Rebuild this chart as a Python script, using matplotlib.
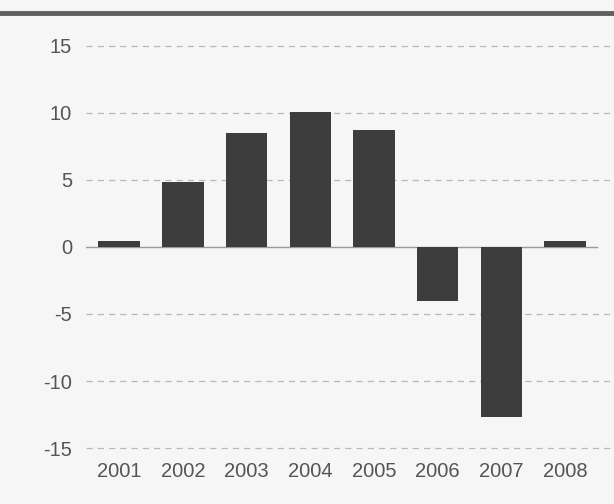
import matplotlib.pyplot as plt

years = ['2001', '2002', '2003', '2004', '2005', '2006', '2007', '2008']
values = [0.45, 4.85, 8.5, 10.05, 8.7, -4.0, -12.7, 0.45]
yticks = [-15, -10, -5, 0, 5, 10, 15]

plt.rcParams['font.family'] = ['Liberation Sans', 'DejaVu Sans']

fig = plt.figure(figsize=(6.14, 5.04), dpi=100, facecolor='#f6f6f6')
ax = fig.add_axes((0.14, 0.111, 0.855, 0.798))
ax.set_facecolor('#f6f6f6')

x = range(len(years))
ax.bar(x, values, width=0.65, color='#3d3d3d', zorder=3)

for t in yticks:
    if t == 0:
        ax.plot([-0.52, 7.5], [0, 0], color='#9a9a9a', lw=1, zorder=2)
    else:
        ax.axhline(t, color='#b8b8b8', lw=0.9, ls=(0, (5, 4)), zorder=1,
                   clip_on=False)

ax.set_xlim(-0.52, 7.72)
ax.set_ylim(-15, 15)
ax.set_yticks(yticks)
ax.set_yticklabels([str(t) for t in yticks], fontsize=14.5, color='#555555')
ax.set_xticks(list(x))
ax.set_xticklabels(years, fontsize=14.5, color='#555555')
ax.tick_params(length=0, axis='y', pad=10)
ax.tick_params(length=0, axis='x', pad=10)
for s in ax.spines.values():
    s.set_visible(False)

# heavy rule under the (cropped) heading
fig.add_artist(plt.Line2D([0.0, 1.0], [0.975, 0.975], color='#5f5f5f', lw=3.5))

fig.savefig('out.png', dpi=100, facecolor=fig.get_facecolor())
